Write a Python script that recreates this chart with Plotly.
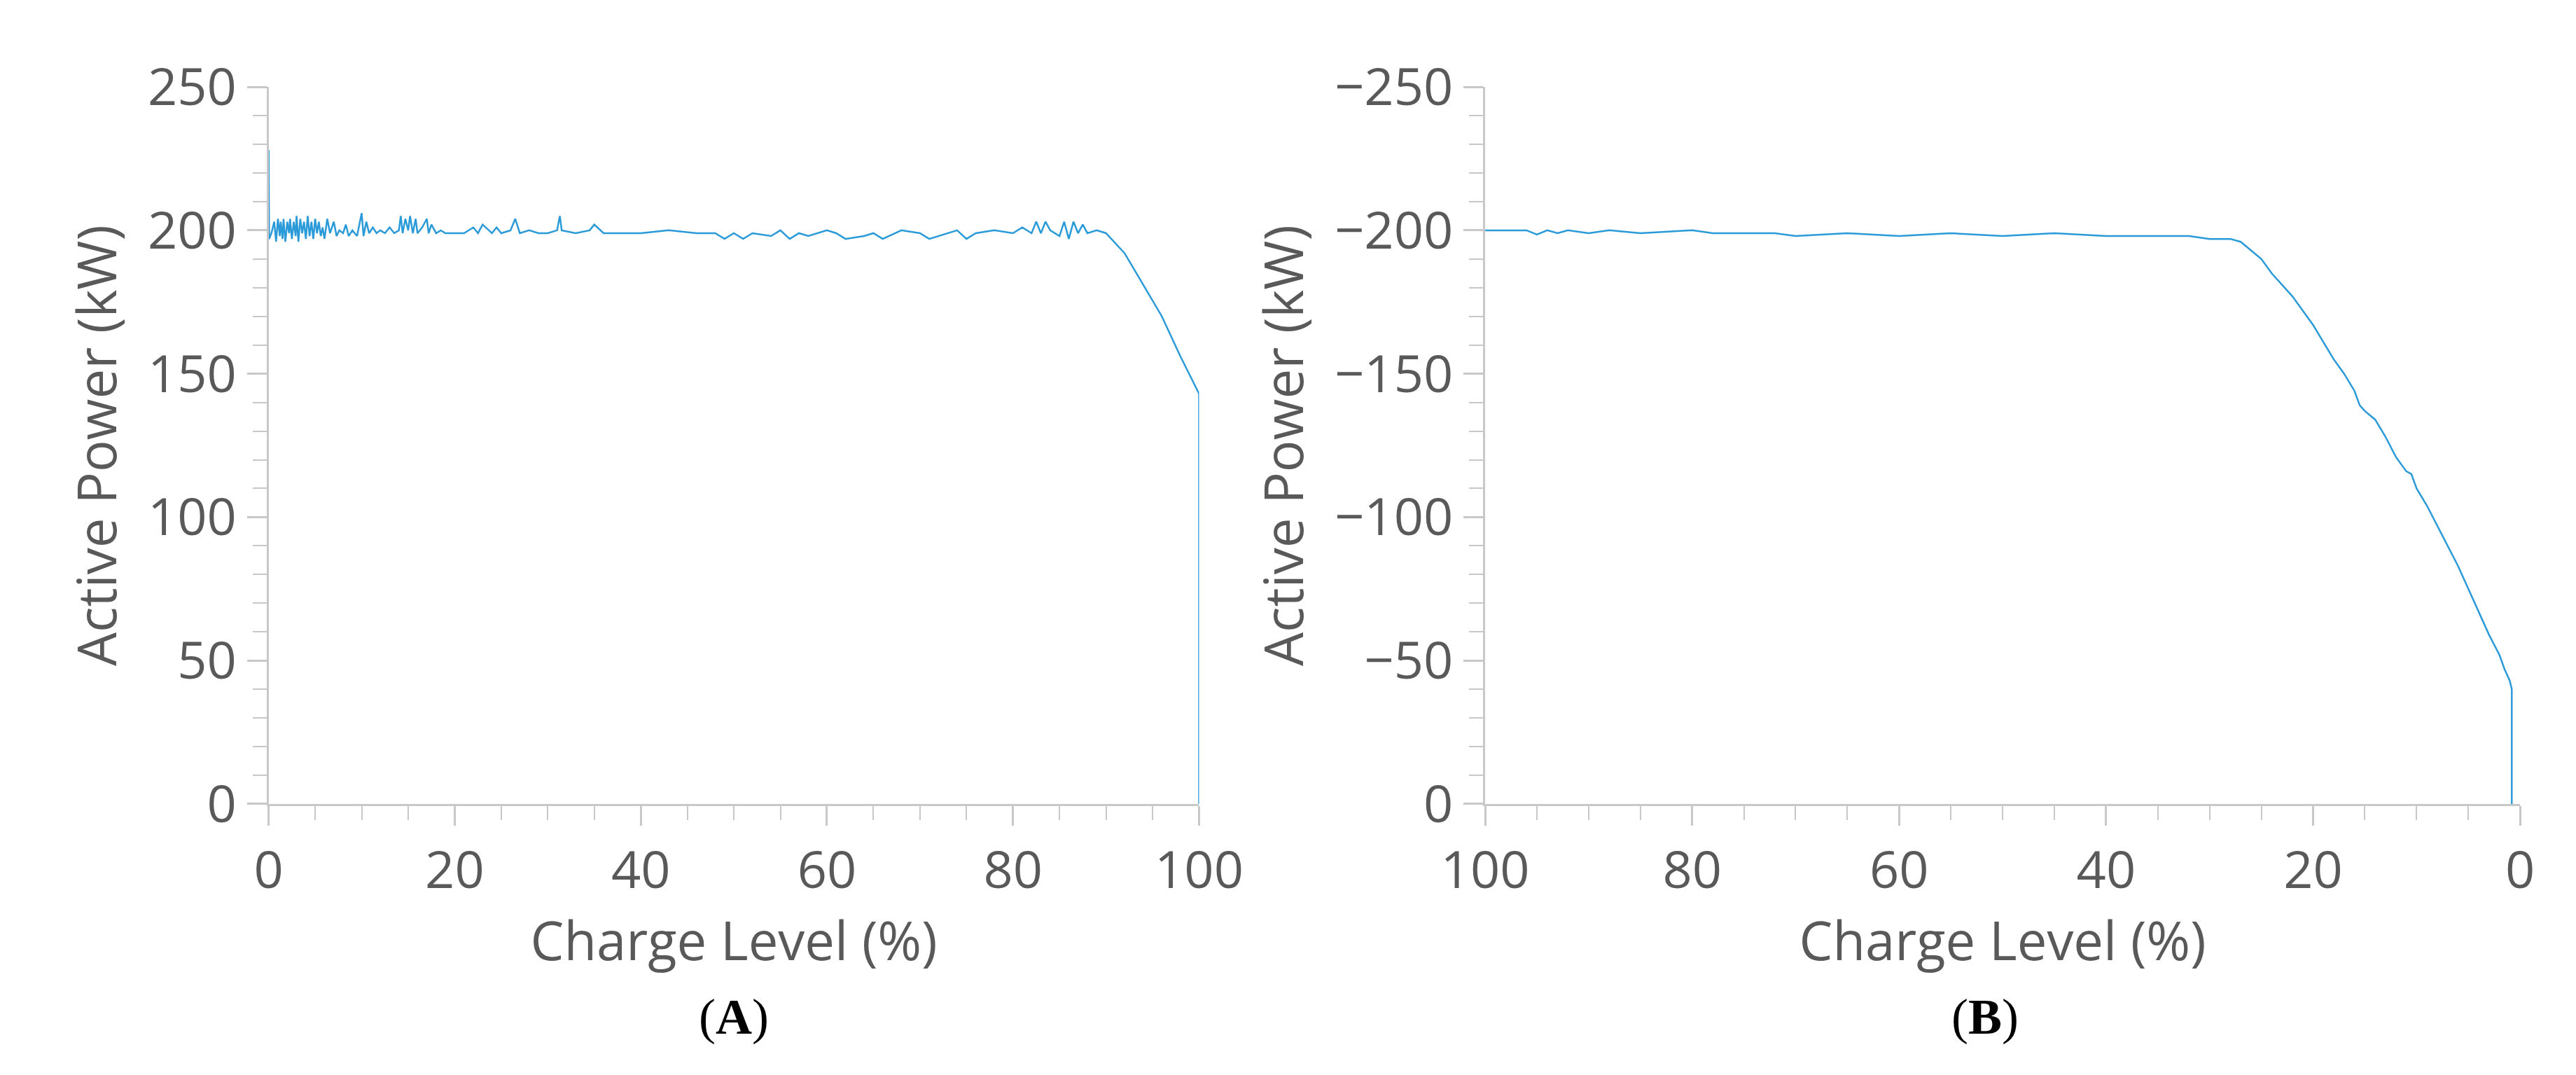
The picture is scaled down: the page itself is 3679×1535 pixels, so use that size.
import plotly.graph_objects as go

# (A) charging: charge level (%) vs active power (kW)
charge_x = [0, 0.05, 0.3, 0.6, 0.8, 1, 1.2, 1.3, 1.5, 1.6, 1.8, 2, 2.2, 2.3, 2.5, 2.7, 2.9, 3, 3.2, 3.4, 3.6, 3.8, 4, 4.2, 4.4, 4.6, 4.8, 5, 5.2, 5.4, 5.6, 5.8, 6, 6.3, 6.6, 7, 7.3, 7.6, 8, 8.3, 8.6, 9, 9.5,
            10, 10.2, 10.5, 10.8, 11.2, 11.6, 12, 12.5, 13, 13.5, 14, 14.2, 14.4, 14.7, 15, 15.2, 15.5, 15.8, 16, 16.5, 17, 17.2, 17.5, 18, 18.5, 19, 20, 21, 22, 22.5, 23, 24, 24.5, 25, 26, 26.5, 27, 28, 29, 30, 31, 31.3, 31.5,
            33, 34.5, 35, 36, 37, 40, 43, 46, 48, 49, 50, 51, 52, 54, 55, 56, 57, 58, 60, 61, 62, 64, 65, 66, 68, 70, 71, 72, 74, 75, 76, 78, 80, 81, 82, 82.5, 83, 83.5, 84, 85, 85.5, 86, 86.5, 87, 87.5, 88, 89, 90,
            92, 94, 96, 98, 100, 100]
charge_y = [228, 197, 199, 203, 196, 204, 198, 203, 197, 204, 196, 203, 199, 204, 197, 203, 198, 205, 196, 204, 199, 203, 197, 205, 198, 203, 197, 204, 199, 203, 198, 201, 197, 204, 199, 203, 198, 200, 199, 202, 198, 200, 198,
            206, 198, 203, 199, 201, 199, 200, 199, 201, 199, 200, 205, 199, 204, 200, 205, 199, 204, 199, 201, 204, 199, 202, 199, 200, 199, 199, 199, 201, 199, 202, 199, 201, 199, 200, 204, 199, 200, 199, 199, 200, 205, 200,
            199, 200, 202, 199, 199, 199, 200, 199, 199, 197, 199, 197, 199, 198, 200, 197, 199, 198, 200, 199, 197, 198, 199, 197, 200, 199, 197, 198, 200, 197, 199, 200, 199, 201, 199, 203, 199, 203, 200, 198, 203, 197, 203, 199, 202, 199, 200, 199,
            192, 181, 170, 156, 143, 0]

# (B) discharging
dis_x = [100, 96, 95, 94, 93, 92, 90, 88, 85, 80, 78, 75, 72, 70, 65, 60, 55, 50, 45, 40, 35, 32, 30, 29, 28, 27, 26, 25, 24, 23, 22, 21, 20, 19, 18, 17, 16, 15.5, 15, 14, 13, 12, 11, 10.5, 10, 9, 8, 7, 6, 5, 4, 3, 2, 1.5, 1, 0.8, 0.8]
dis_y = [-200, -200, -198.5, -200, -199, -200, -199, -200, -199, -200, -199, -199, -199, -198, -199, -198, -199, -198, -199, -198, -198, -198, -197, -197, -197, -196, -193, -190, -185, -181, -177, -172, -167, -161, -155, -150, -144, -139, -137, -134, -128, -121, -116, -115, -110, -104, -97, -90, -83, -75, -67, -59, -52, -47, -43, -40, 0]

ticks_x = [0, 20, 40, 60, 80, 100]
ticks_yA = [0, 50, 100, 150, 200, 250]
ticks_yB = [0, -50, -100, -150, -200, -250]

blue = "#2a9ad8"
grey = "#595959"
axcol = "#c8c8c8"
tickfont = dict(family="Open Sans", size=74, color=grey)
titlefont = dict(family="Open Sans", size=76, color=grey)

fig = go.Figure()
fig.add_trace(go.Scatter(x=charge_x, y=charge_y, mode="lines", line=dict(color=blue, width=2.5), xaxis="x", yaxis="y"))
fig.add_trace(go.Scatter(x=dis_x, y=dis_y, mode="lines", line=dict(color=blue, width=2.5), xaxis="x2", yaxis="y2"))

common = dict(showgrid=False, zeroline=False, showline=True, linecolor=axcol, linewidth=3,
              ticks="outside", tickcolor=axcol, ticklen=28, tickwidth=3, tickfont=tickfont,
              minor=dict(ticks="outside", ticklen=20, tickcolor=axcol, tickwidth=2))

fig.update_layout(
    width=3679, height=1535, showlegend=False,
    plot_bgcolor="white", paper_bgcolor="white",
    margin=dict(l=0, r=0, t=0, b=0),
    xaxis=dict(domain=[0.088, 0.462], range=[0, 100], tickvals=ticks_x, anchor="y",
               title=dict(text="Charge Level (%)", font=titlefont, standoff=0), **common),
    yaxis=dict(domain=[0.242, 0.956], range=[0, 250], tickvals=ticks_yA, anchor="x",
               title=dict(text="Active Power (kW)", font=titlefont, standoff=20), **common),
    xaxis2=dict(domain=[0.577, 0.993], range=[100, 0], tickvals=ticks_x, anchor="y2",
                title=dict(text="Charge Level (%)", font=titlefont, standoff=0), **common),
    yaxis2=dict(domain=[0.242, 0.956], range=[0, -250], tickvals=ticks_yB, anchor="x2",
                title=dict(text="Active Power (kW)", font=titlefont, standoff=20), **common),
)
fig.update_xaxes(minor_dtick=5)
fig.update_yaxes(minor_dtick=10)

labfont = dict(family="Liberation Serif", size=72, color="black")
fig.add_annotation(text="(<b>A</b>)", x=0.275, y=0.03, xref="paper", yref="paper",
                   xanchor="center", yanchor="middle", showarrow=False, font=labfont)
fig.add_annotation(text="(<b>B</b>)", x=0.778, y=0.03, xref="paper", yref="paper",
                   xanchor="center", yanchor="middle", showarrow=False, font=labfont)

fig.write_html("out.html")
